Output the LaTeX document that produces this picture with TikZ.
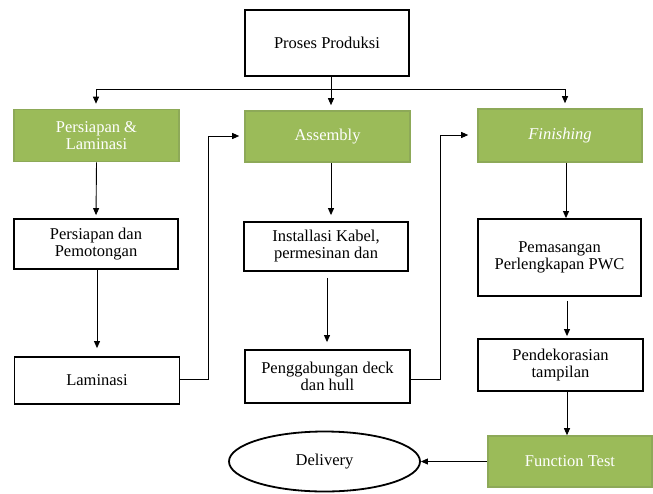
\documentclass[tikz,border=0pt]{standalone}
\usepackage{fontspec}
\setmainfont{Liberation Serif}
\usetikzlibrary{arrows.meta,shapes.geometric}
\definecolor{greenfill}{HTML}{9BBB59}
\definecolor{greenline}{HTML}{8DA958}
\tikzset{
  base/.style={rectangle, align=center, inner sep=2pt, font=\fontsize{16.5}{17}\selectfont},
  whitebox/.style={base, draw=black, line width=1.8pt, fill=white, text=black},
  greenbox/.style={base, draw=greenline, line width=1.6pt, fill=greenfill, text=white},
  conn/.style={draw=black, line width=0.9pt},
  arr/.style={conn, -{Triangle[length=7pt,width=6pt]}},
}
\begin{document}
\begin{tikzpicture}[x=1pt,y=-1pt]
\useasboundingbox (0,0) rectangle (653,493);
% nodes
\node[whitebox, minimum width=164pt, minimum height=66pt] (top) at (327,43) {Proses Produksi};
\node[greenbox, minimum width=165pt, minimum height=52pt] (pl) at (96.5,135.5) {Persiapan \&\\Laminasi};
\node[greenbox, minimum width=165pt, minimum height=51pt] (as) at (327.5,136.5) {Assembly};
\node[greenbox, minimum width=164pt, minimum height=53pt] (fi) at (560,135.5) {\itshape Finishing};
\node[whitebox, minimum width=164pt, minimum height=50pt] (pp) at (96,244) {Persiapan dan\\Pemotongan};
\node[whitebox, minimum width=164pt, minimum height=49pt] (ik) at (326,246.5) {Installasi Kabel,\\permesinan dan};
\node[whitebox, minimum width=163pt, minimum height=77pt] (pm) at (559.5,257.5) {Pemasangan\\Perlengkapan PWC};
\node[whitebox, minimum width=165pt, minimum height=47pt] (la) at (97,380.5) {Laminasi};
\node[whitebox, minimum width=165pt, minimum height=53pt] (pg) at (327.5,376.5) {Penggabungan deck\\dan hull};
\node[whitebox, minimum width=165pt, minimum height=52pt] (pd) at (560.5,365) {Pendekorasian\\tampilan};
\node[greenbox, minimum width=164pt, minimum height=51pt] (ft) at (570,461.5) {Function Test};
\node[ellipse, draw=black, line width=1.8pt, fill=white, minimum width=191pt, minimum height=60pt, inner sep=0pt, font=\fontsize{16.5}{17}\selectfont] (de) at (324.5,461.5) {Delivery};
% connectors from top
\coordinate (j) at (331,89);
\coordinate (jl) at (96,89);
\coordinate (jr) at (565,89);
\draw[conn] (top.south -| j) -- (j);
\draw[conn] (jl) -- (jr);
\draw[arr, shorten >=5pt] (jl) -- (jl |- pl.north);
\draw[arr, shorten >=5pt] (j) -- (j |- as.north);
\draw[arr, shorten >=5pt] (jr) -- (jr |- fi.north);
% column 1
\draw[arr, shorten >=3pt] (pl.south) -- (pp.north);
\draw[arr, shorten >=8pt] (pp.south -| 97,0) -- (la.north -| 97,0);
% laminasi to assembly
\coordinate (b1) at (208,379);
\coordinate (t1) at (208,136);
\draw[arr, shorten >=5pt] (la.east |- b1) -- (b1) -- (t1) -- (as.west |- t1);
% column 2
\draw[arr, shorten >=6pt] (as.south -| j) -- (ik.north -| j);
\draw[arr, shorten <=6pt, shorten >=7pt] (ik.south -| 327,0) -- (pg.north -| 327,0);
% penggabungan to finishing
\coordinate (b2) at (440,379);
\coordinate (t2) at (440,135);
\draw[arr, shorten >=9pt] (pg.east |- b2) -- (b2) -- (t2) -- (fi.west |- t2);
% column 3
\draw[arr] (fi.south -| 566,0) -- (pm.north -| 566,0);
\draw[arr, shorten <=4pt, shorten >=2pt] (pm.south -| 567,0) -- (pd.north -| 567,0);
\draw[arr] (pd.south -| 567,0) -- (ft.north -| 567,0);
% function test to delivery
\draw[arr] (ft.west) -- (de.east);
\end{tikzpicture}
\end{document}
